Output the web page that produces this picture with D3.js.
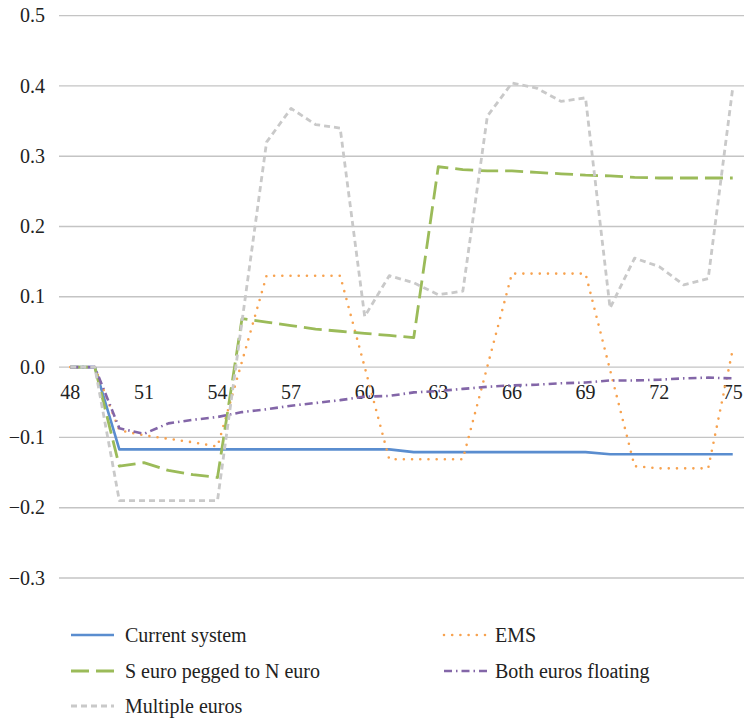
<!DOCTYPE html>
<html>
<head>
<meta charset="utf-8">
<script src="https://cdn.jsdelivr.net/npm/d3@7"></script>
<style>
  html, body { margin: 0; padding: 0; background: #fff; }
</style>
</head>
<body>
<svg id="chart" width="744" height="721"></svg>
<script>
const periods = d3.range(48, 76);
const tickLabels = [48, 51, 54, 57, 60, 63, 66, 69, 72, 75];
const yTicks = [-0.3, -0.2, -0.1, 0.0, 0.1, 0.2, 0.3, 0.4, 0.5];

const currentSystem = [0, 0, -0.117, -0.117, -0.117, -0.117, -0.117, -0.117, -0.117, -0.117, -0.117, -0.117, -0.117, -0.117,
  -0.121, -0.121, -0.121, -0.121, -0.121, -0.121, -0.121, -0.121, -0.124, -0.124, -0.124, -0.124, -0.124, -0.124];
const ems = [0, 0, -0.09, -0.097, -0.102, -0.107, -0.113, 0.008, 0.13, 0.13, 0.13, 0.13, 0.0, -0.131,
  -0.131, -0.131, -0.131, 0.001, 0.133, 0.133, 0.133, 0.133, -0.004, -0.141, -0.144, -0.144, -0.144, 0.025];
const sEuroPegged = [0, 0, -0.141, -0.136, -0.147, -0.153, -0.157, 0.069, 0.064, 0.059, 0.054, 0.051, 0.048, 0.045,
  0.042, 0.285, 0.281, 0.279, 0.279, 0.277, 0.275, 0.273, 0.272, 0.27, 0.269, 0.269, 0.269, 0.269];
const bothFloating = [0, 0, -0.087, -0.095, -0.08, -0.075, -0.071, -0.064, -0.06, -0.055, -0.051, -0.047, -0.042, -0.041,
  -0.036, -0.034, -0.031, -0.028, -0.026, -0.025, -0.023, -0.022, -0.019, -0.019, -0.018, -0.016, -0.015, -0.016];
const multipleEuros = [0, 0, -0.19, -0.19, -0.19, -0.19, -0.19, 0.065, 0.32, 0.368, 0.345, 0.34, 0.072, 0.13,
  0.12, 0.103, 0.108, 0.357, 0.404, 0.397, 0.378, 0.383, 0.084, 0.155, 0.143, 0.117, 0.126, 0.397];

const seriesNames = ["Current system", "EMS", "S euro pegged to N euro", "Both euros floating", "Multiple euros"];
const seriesValues = [currentSystem, ems, sEuroPegged, bothFloating, multipleEuros];

const styles = [
  { color: "#5a8dcf", width: 2.6, dash: null, cap: "butt" },
  { color: "#f7a24f", width: 2.6, dash: "0,8.2", cap: "round" },
  { color: "#9bbb59", width: 2.8, dash: "18,7", cap: "butt" },
  { color: "#8366a8", width: 2.6, dash: "8,4,1.5,4", cap: "butt" },
  { color: "#c9c9c9", width: 2.8, dash: "6,4", cap: "butt" }
];

const FONT = "Liberation Serif";
const svg = d3.select("#chart");
const x = d3.scalePoint().domain(periods).range([58, 745]).padding(0.5);
const y = d3.scaleLinear().domain([-0.3, 0.5]).range([578, 15.6]);

// gridlines
svg.append("g").selectAll("line").data(yTicks).join("line")
  .attr("x1", 59).attr("x2", 744)
  .attr("y1", d => y(d)).attr("y2", d => y(d))
  .attr("stroke", "#c4c4c4").attr("stroke-width", 1.4);

// y axis labels
const fmt = d => (d < 0 ? "\u2212" : "") + Math.abs(d).toFixed(1);
svg.append("g").selectAll("text").data(yTicks).join("text")
  .attr("x", 45).attr("y", d => y(d)).attr("dy", "0.33em")
  .attr("text-anchor", "end").attr("font-size", 20).attr("font-family", FONT).attr("fill", "#222")
  .text(fmt);

// x axis labels
svg.append("g").selectAll("text").data(tickLabels).join("text")
  .attr("x", d => x(d)).attr("y", y(0) + 25).attr("dy", "0.33em")
  .attr("text-anchor", "middle").attr("font-size", 20).attr("font-family", FONT).attr("fill", "#222")
  .text(d => String(d));

// lines
const line = d3.line().x((d, i) => x(periods[i])).y(d => y(d));
seriesValues.forEach((vals, k) => {
  const s = styles[k];
  svg.append("path").datum(vals)
    .attr("d", line)
    .attr("fill", "none")
    .attr("stroke", s.color)
    .attr("stroke-width", s.width)
    .attr("stroke-linecap", s.cap)
    .attr("stroke-linejoin", "round")
    .attr("stroke-dasharray", s.dash);
});

// legend
const legendPos = [
  { x: 71, y: 635 }, { x: 444, y: 635 },
  { x: 71, y: 671 }, { x: 444, y: 671 },
  { x: 71, y: 706 }
];
seriesNames.forEach((name, k) => {
  const p = legendPos[k], s = styles[k];
  const g = svg.append("g");
  g.append("line").attr("x1", p.x).attr("x2", p.x + 43).attr("y1", p.y).attr("y2", p.y)
    .attr("stroke", s.color).attr("stroke-width", s.width)
    .attr("stroke-linecap", s.cap).attr("stroke-dasharray", s.dash);
  g.append("text").attr("x", p.x + (k % 2 === 0 ? 54 : 51)).attr("y", p.y).attr("dy", "0.33em")
    .attr("font-size", 20).attr("font-family", FONT).attr("fill", "#222").text(name);
});
</script>
</body>
</html>
